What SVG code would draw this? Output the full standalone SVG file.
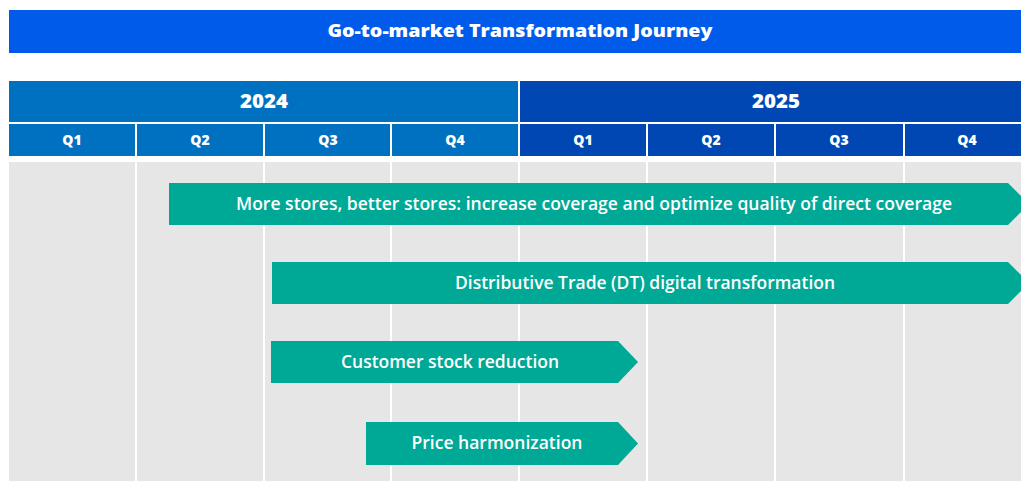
<svg xmlns="http://www.w3.org/2000/svg" width="1021" height="481" viewBox="0 0 1021 481">
<style>
.title{font-family:"Open Sans","Noto Sans",sans-serif;font-weight:800;font-size:18px;fill:#fff;text-anchor:middle}
.year{font-family:"Open Sans","Noto Sans",sans-serif;font-weight:800;font-size:18.5px;fill:#fff;text-anchor:middle}
.q{font-family:"Open Sans","Noto Sans",sans-serif;font-weight:800;font-size:14px;fill:#fff;text-anchor:middle}
.bar{fill:#00A896}
.bt{font-family:"Open Sans","Noto Sans",sans-serif;font-weight:600;font-size:17.5px;fill:#fff;text-anchor:middle}
.col{fill:#E6E6E6}
.c24{fill:#0070C0}
.c25{fill:#0047B3}
</style>
<rect width="1021" height="481" fill="#fff"/>
<g id="title">
<rect x="9" y="10" width="1012" height="43" fill="#005BEA"/>
<text class="title" x="520" y="37" textLength="385" lengthAdjust="spacingAndGlyphs">Go-to-market Transformation Journey</text>
</g>
<g id="header">
<rect class="c24" x="9" y="81" width="509" height="41"/>
<rect class="c25" x="520" y="81" width="501" height="41"/>
<text class="year" x="264" y="108" textLength="48" lengthAdjust="spacingAndGlyphs">2024</text>
<text class="year" x="776" y="108" textLength="48" lengthAdjust="spacingAndGlyphs">2025</text>
<rect class="c24" x="9" y="124" width="126" height="32"/>
<rect class="c24" x="137" y="124" width="126" height="32"/>
<rect class="c24" x="265" y="124" width="125" height="32"/>
<rect class="c24" x="392" y="124" width="126" height="32"/>
<rect class="c25" x="520" y="124" width="126" height="32"/>
<rect class="c25" x="648" y="124" width="126" height="32"/>
<rect class="c25" x="776" y="124" width="127" height="32"/>
<rect class="c25" x="905" y="124" width="116" height="32"/>
<text class="q" x="72" y="145">Q1</text>
<text class="q" x="200" y="145">Q2</text>
<text class="q" x="328" y="145">Q3</text>
<text class="q" x="455" y="145">Q4</text>
<text class="q" x="583" y="145">Q1</text>
<text class="q" x="711" y="145">Q2</text>
<text class="q" x="839" y="145">Q3</text>
<text class="q" x="967" y="145">Q4</text>
</g>
<g id="body">
<rect class="col" x="9" y="162" width="126" height="319"/>
<rect class="col" x="137" y="162" width="126" height="319"/>
<rect class="col" x="265" y="162" width="125" height="319"/>
<rect class="col" x="392" y="162" width="126" height="319"/>
<rect class="col" x="520" y="162" width="126" height="319"/>
<rect class="col" x="648" y="162" width="126" height="319"/>
<rect class="col" x="776" y="162" width="127" height="319"/>
<rect class="col" x="905" y="162" width="116" height="319"/>
</g>
<g id="bar1">
<polygon class="bar" points="169,183 1008,183 1029,204 1008,225 169,225"/>
<text class="bt" x="594" y="210" textLength="716" lengthAdjust="spacingAndGlyphs">More stores, better stores: increase coverage and optimize quality of direct coverage</text>
</g>
<g id="bar2">
<polygon class="bar" points="272,262 1008,262 1029,283 1008,304 272,304"/>
<text class="bt" x="645" y="289" textLength="380" lengthAdjust="spacingAndGlyphs">Distributive Trade (DT) digital transformation</text>
</g>
<g id="bar3">
<polygon class="bar" points="271,341 618,341 638,362 618,383 271,383"/>
<text class="bt" x="450" y="368" textLength="218" lengthAdjust="spacingAndGlyphs">Customer stock reduction</text>
</g>
<g id="bar4">
<polygon class="bar" points="366,422 618,422 638,443.5 618,465 366,465"/>
<text class="bt" x="497" y="449" textLength="171" lengthAdjust="spacingAndGlyphs">Price harmonization</text>
</g>
</svg>
